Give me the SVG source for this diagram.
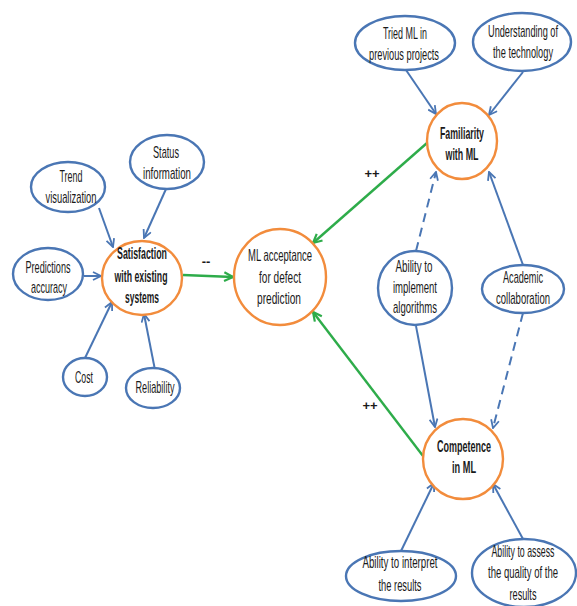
<svg xmlns="http://www.w3.org/2000/svg" width="577" height="606" viewBox="0 0 577 606">
<style>
.n ellipse{fill:#fff;stroke:#4a76b4;stroke-width:2.4}
.o ellipse{fill:#fff;stroke:#f28c3c;stroke-width:2.4}
text{font-family:"Liberation Sans",Arial,sans-serif;font-size:17px;fill:#1a1a1a;text-anchor:middle}
.o text{font-weight:bold;font-size:16.5px}
.o text.r{font-weight:normal}
.b{stroke:#4a76b4;stroke-width:2;fill:none;marker-end:url(#ab)}
.g{stroke:#2eac4a;stroke-width:2.4;fill:none;marker-end:url(#ag)}
.d{stroke-dasharray:9,6}
.lbl{font-size:13px;font-weight:bold}
</style>
<defs>
<marker id="ab" viewBox="0 0 10 10" refX="9" refY="5" markerWidth="10" markerHeight="10" markerUnits="userSpaceOnUse" orient="auto">
<path d="M1,1 L9,5 L1,9" fill="none" stroke="#4a76b4" stroke-width="1.8"/>
</marker>
<marker id="ag" viewBox="0 0 10 10" refX="9" refY="5" markerWidth="11" markerHeight="11" markerUnits="userSpaceOnUse" orient="auto">
<path d="M1,1 L9,5 L1,9" fill="none" stroke="#2eac4a" stroke-width="2"/>
</marker>
</defs>
<rect width="577" height="606" fill="#fff"/>
<g id="connectors">
<line class="b" x1="99" y1="208" x2="113" y2="247"/>
<line class="b" x1="166" y1="189" x2="144" y2="238"/>
<line class="b" x1="84" y1="276" x2="101" y2="276"/>
<line class="b" x1="85" y1="358" x2="112" y2="302"/>
<line class="b" x1="155" y1="370" x2="144" y2="314"/>
<line class="g" x1="183" y1="275" x2="233" y2="277"/>
<line class="g" x1="427" y1="143" x2="313" y2="243"/>
<line class="g" x1="423" y1="456" x2="313" y2="312"/>
<line class="b" x1="406" y1="70" x2="436" y2="114"/>
<line class="b" x1="523" y1="72" x2="489" y2="115"/>
<line class="b d" x1="416" y1="251" x2="436" y2="172"/>
<line class="b" x1="523" y1="265" x2="489" y2="172"/>
<line class="b" x1="416" y1="326" x2="435" y2="427"/>
<line class="b d" x1="523" y1="313" x2="493" y2="428"/>
<line class="b" x1="401" y1="551" x2="434" y2="483"/>
<line class="b" x1="523" y1="539" x2="493" y2="484"/>
<text class="lbl" x="206" y="266">--</text>
<text class="lbl" x="372" y="178">++</text>
<text class="lbl" x="370" y="410">++</text>
</g>
<g id="trend" class="n"><ellipse cx="68" cy="187" rx="37" ry="25"/>
<text x="71" y="182" textLength="23" lengthAdjust="spacingAndGlyphs">Trend</text>
<text x="71" y="203" textLength="51" lengthAdjust="spacingAndGlyphs">visualization</text></g>
<g id="status" class="n"><ellipse cx="167" cy="162" rx="37" ry="27"/>
<text x="166" y="158" textLength="26" lengthAdjust="spacingAndGlyphs">Status</text>
<text x="167" y="179" textLength="48" lengthAdjust="spacingAndGlyphs">information</text></g>
<g id="predictions" class="n"><ellipse cx="48" cy="274" rx="35" ry="26"/>
<text x="48" y="273" textLength="45" lengthAdjust="spacingAndGlyphs">Predictions</text>
<text x="49" y="293" textLength="36" lengthAdjust="spacingAndGlyphs">accuracy</text></g>
<g id="satisfaction" class="o"><ellipse cx="142" cy="278" rx="40" ry="37"/>
<text x="142" y="259" textLength="50" lengthAdjust="spacingAndGlyphs">Satisfaction</text>
<text x="141" y="282" textLength="53" lengthAdjust="spacingAndGlyphs">with existing</text>
<text x="142" y="303" textLength="34" lengthAdjust="spacingAndGlyphs">systems</text></g>
<g id="cost" class="n"><ellipse cx="85" cy="377" rx="22" ry="19"/>
<text x="84" y="383" textLength="18" lengthAdjust="spacingAndGlyphs">Cost</text></g>
<g id="reliability" class="n"><ellipse cx="153" cy="388" rx="27" ry="20"/>
<text x="155" y="393" textLength="39" lengthAdjust="spacingAndGlyphs">Reliability</text></g>
<g id="acceptance" class="o"><ellipse cx="280" cy="277" rx="46" ry="48"/>
<text class="r" x="280" y="261" textLength="64" lengthAdjust="spacingAndGlyphs">ML acceptance</text>
<text class="r" x="280" y="283" textLength="42" lengthAdjust="spacingAndGlyphs">for defect</text>
<text class="r" x="279" y="304" textLength="44" lengthAdjust="spacingAndGlyphs">prediction</text></g>
<g id="tried" class="n"><ellipse cx="405" cy="43" rx="50" ry="27"/>
<text x="405" y="39" textLength="44" lengthAdjust="spacingAndGlyphs">Tried ML in</text>
<text x="404" y="60" textLength="70" lengthAdjust="spacingAndGlyphs">previous projects</text></g>
<g id="understanding" class="n"><ellipse cx="522" cy="42" rx="49" ry="29"/>
<text x="523" y="37" textLength="70" lengthAdjust="spacingAndGlyphs">Understanding of</text>
<text x="523" y="58" textLength="60" lengthAdjust="spacingAndGlyphs">the technology</text></g>
<g id="familiarity" class="o"><ellipse cx="462" cy="141" rx="35" ry="38"/>
<text x="462" y="139" textLength="44" lengthAdjust="spacingAndGlyphs">Familiarity</text>
<text x="462" y="160" textLength="33" lengthAdjust="spacingAndGlyphs">with ML</text></g>
<g id="implement" class="n"><ellipse cx="415" cy="288" rx="37" ry="37"/>
<text x="414" y="272" textLength="37" lengthAdjust="spacingAndGlyphs">Ability to</text>
<text x="415" y="293" textLength="44" lengthAdjust="spacingAndGlyphs">implement</text>
<text x="415" y="313" textLength="44" lengthAdjust="spacingAndGlyphs">algorithms</text></g>
<g id="academic" class="n"><ellipse cx="523" cy="289" rx="41" ry="24"/>
<text x="523" y="283" textLength="40" lengthAdjust="spacingAndGlyphs">Academic</text>
<text x="523" y="304" textLength="54" lengthAdjust="spacingAndGlyphs">collaboration</text></g>
<g id="competence" class="o"><ellipse cx="463" cy="459" rx="40" ry="40"/>
<text x="464" y="452" textLength="54" lengthAdjust="spacingAndGlyphs">Competence</text>
<text x="464" y="473" textLength="24" lengthAdjust="spacingAndGlyphs">in ML</text></g>
<g id="interpret" class="n"><ellipse cx="401" cy="576" rx="55" ry="25"/>
<text x="400" y="568" textLength="75" lengthAdjust="spacingAndGlyphs">Ability to interpret</text>
<text x="400" y="591" textLength="43" lengthAdjust="spacingAndGlyphs">the results</text></g>
<g id="assess" class="n"><ellipse cx="524" cy="573" rx="52" ry="34"/>
<text x="523" y="557" textLength="63" lengthAdjust="spacingAndGlyphs">Ability to assess</text>
<text x="523" y="578" textLength="70" lengthAdjust="spacingAndGlyphs">the quality of the</text>
<text x="523" y="600" textLength="27" lengthAdjust="spacingAndGlyphs">results</text></g>
</svg>
